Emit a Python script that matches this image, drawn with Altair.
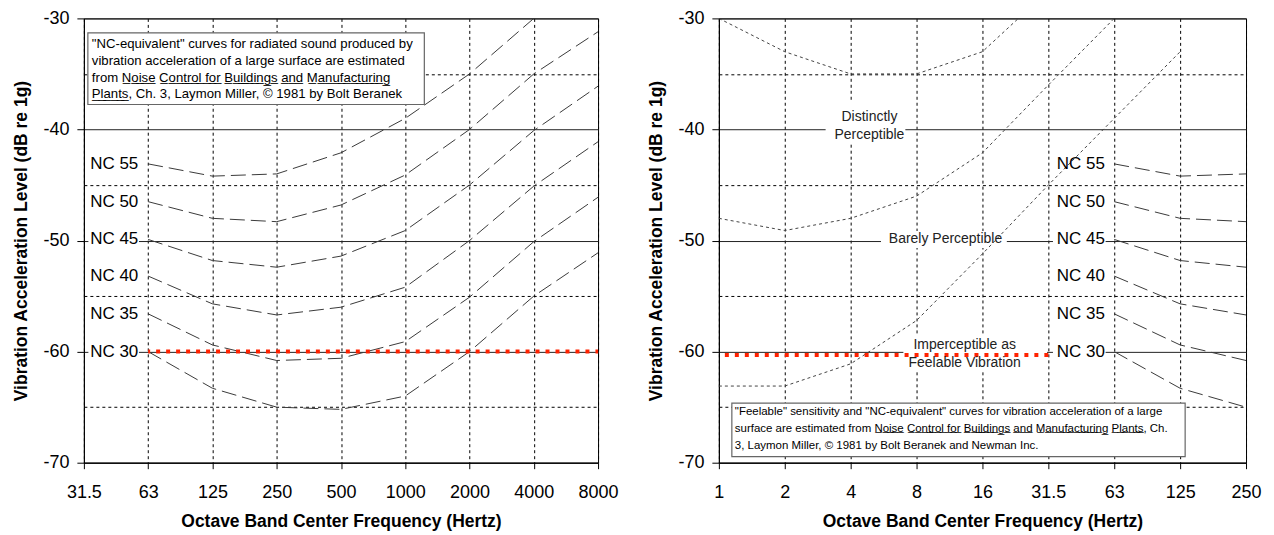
import altair as alt
import pandas as pd

FONT = "Liberation Sans"

# ---------------- data ----------------
LEFT_TICKS = ["31.5", "63", "125", "250", "500", "1000", "2000", "4000", "8000"]
RIGHT_TICKS = ["1", "2", "4", "8", "16", "31.5", "63", "125", "250"]

NC_FREQS = ["63", "125", "250", "500", "1000", "2000", "4000", "8000"]
NC_NAMES = ["NC 30", "NC 35", "NC 40", "NC 45", "NC 50", "NC 55"]
NC30 = [-60.0, -63.3, -65.0, -65.2, -64.0, -60.0, -55.0, -51.1]
NC35 = [-56.6, -59.4, -60.8, -60.6, -59.1, -55.1, -50.1, -46.1]
NC40 = [-53.2, -55.7, -56.7, -56.0, -54.2, -50.0, -45.1, -41.1]
NC45 = [-49.9, -51.8, -52.4, -51.4, -49.1, -45.0, -40.1, -36.1]
NC50 = [-46.5, -48.0, -48.3, -46.8, -44.1, -40.0, -35.0, -31.2]
NC55 = [-43.1, -44.2, -44.0, -42.1, -39.0, -35.0, -30.0]
NC_VALUES = [NC30, NC35, NC40, NC45, NC50, NC55]
RIGHT_NC_FREQS = ["63", "125", "250"]

FEEL_FREQS = ["1", "2", "4", "8", "16", "31.5", "63", "125"]
DISTINCT = [-30.0, -33.0, -35.0, -35.0, -33.0, -27.5]
BARELY = [-48.0, -49.1, -48.0, -46.0, -42.1, -36.0, -30.0]
IMPERCEPT = [-63.1, -63.1, -61.1, -57.2, -51.2, -45.0, -39.0, -33.0]
FEEL_NAMES = ["Distinctly Perceptible", "Barely Perceptible", "Imperceptible"]
FEEL_VALUES = [DISTINCT, BARELY, IMPERCEPT]

THRESH_LEFT_FREQS = ["63", "8000"]
THRESH_LEFT_DB = -60.0
THRESH_RIGHT_FREQS = ["1", "31.5"]
THRESH_RIGHT_DB = -60.3


def ul(word):
    return "".join(c + "\u0332" for c in word)


LEFT_NOTE = [
    '"NC-equivalent" curves for radiated sound produced by',
    "vibration acceleration of a large surface are estimated",
    "from " + " ".join(ul(w) for w in ["Noise", "Control", "for", "Buildings", "and", "Manufacturing"]),
    ul("Plants") + ", Ch. 3, Laymon Miller, \u00a9 1981 by Bolt Beranek",
]
RIGHT_NOTE = [
    '"Feelable" sensitivity and "NC-equivalent" curves for vibration acceleration of a large',
    "surface are estimated from "
    + " ".join(ul(w) for w in ["Noise", "Control", "for", "Buildings", "and", "Manufacturing", "Plants"])
    + ", Ch.",
    "3, Laymon Miller, \u00a9 1981 by Bolt Beranek and Newman Inc.",
]

# ---------------- encodings ----------------
Y_DOMAIN = [-70, -30]
Y_VALUES = [-70, -65, -60, -55, -50, -45, -40, -35, -30]
MAJOR = "datum.value % 10 == 0"


def x_axis(ticks):
    arr = "[" + ",".join("'" + t + "'" for t in ticks) + "]"
    return alt.Axis(
        values=list(range(len(ticks))),
        labelExpr=arr + "[datum.value]",
        title="Octave Band Center Frequency (Hertz)",
        grid=True, gridDash=[3, 3], gridColor="#000", gridWidth=1,
        domainColor="#000", tickColor="#000", tickSize=6,
        labelFont=FONT, labelFontSize=18, labelColor="#000", labelPadding=15,
        labelFlush=False, labelOverlap=False,
        titleFont=FONT, titleFontSize=17.5, titleFontWeight="bold", titleColor="#000",
        titlePadding=11,
    )


Y_AXIS = alt.Axis(
    values=Y_VALUES,
    labelExpr=MAJOR + " ? '' + datum.value : ''",
    title="Vibration Acceleration Level (dB re 1g)",
    grid=True,
    gridDash=alt.condition(MAJOR, alt.value([]), alt.value([3, 3])),
    gridColor=alt.condition(MAJOR, alt.value("#222"), alt.value("#000")),
    gridWidth=1,
    domainColor="#000", tickColor="#000", tickSize=7,
    tickOpacity=alt.condition(MAJOR, alt.value(1), alt.value(0)),
    labelFont=FONT, labelFontSize=18, labelColor="#000", labelPadding=8,
    labelOverlap=False,
    titleFont=FONT, titleFontSize=17.5, titleFontWeight="bold", titleColor="#000",
    titlePadding=12,
)


def X(field, ticks):
    return alt.X(field, type="quantitative",
                 scale=alt.Scale(domain=[0, len(ticks) - 1], nice=False, zero=False),
                 axis=x_axis(ticks))


def X2(field):
    return alt.X2(field)


def Y(field):
    return alt.Y(field, type="quantitative",
                 scale=alt.Scale(domain=Y_DOMAIN, nice=False, zero=False), axis=Y_AXIS)


def Y2(field):
    return alt.Y2(field)


# ---------------- panel builder ----------------
def panel(ticks, nc_freqs, width, height, feel, thresh_freqs, thresh_db, thresh_offset,
          nc_label_x, nc_label_left, note_lines, note_box, note_x, note_ys, note_size,
          extra_labels, extra_boxes):
    nc_rows = []
    for name, vals in zip(NC_NAMES, NC_VALUES):
        for f, v in zip(NC_FREQS, vals):
            if f in nc_freqs:
                nc_rows.append({"curve": name, "i": ticks.index(f), "db": v})
    nc_df = pd.DataFrame(nc_rows)

    lab_rows = []
    for name, vals in zip(NC_NAMES, NC_VALUES):
        lab_rows.append({"label": name, "i": nc_label_x, "i0": nc_label_left,
                         "db": vals[0], "y0": vals[0] - 0.7, "y1": vals[0] + 0.7})
    lab_df = pd.DataFrame(lab_rows)

    box_rows = [{"i0": nc_label_left, "i1": nc_label_x + 0.01, "y0": r["y0"], "y1": r["y1"]}
                for r in lab_rows] + extra_boxes
    box_df = pd.DataFrame(box_rows)

    layers = []
    layers.append(
        alt.Chart(box_df).mark_rect(color="white", opacity=1).encode(
            x=X("i0", ticks), x2=X2("i1"), y=Y("y0"), y2=Y2("y1"))
    )
    layers.append(
        alt.Chart(nc_df).mark_line(color="#3a3a3a", strokeWidth=1, strokeDash=[15, 6]).encode(
            x=X("i", ticks), y=Y("db"), detail="curve:N")
    )
    if feel:
        feel_rows = []
        for name, vals in zip(FEEL_NAMES, FEEL_VALUES):
            for f, v in zip(FEEL_FREQS, vals):
                feel_rows.append({"curve": name, "i": ticks.index(f), "db": v})
        layers.append(
            alt.Chart(pd.DataFrame(feel_rows)).mark_line(
                color="#444", strokeWidth=1, strokeDash=[3, 3], clip=True).encode(
                x=X("i", ticks), y=Y("db"), detail="curve:N")
        )
    thr_df = pd.DataFrame({"i": [ticks.index(f) for f in thresh_freqs], "db": [thresh_db] * 2})
    layers.append(
        alt.Chart(thr_df).mark_line(color="#ff2200", strokeWidth=4, strokeDash=[4, 6],
                                    strokeDashOffset=thresh_offset).encode(
            x=X("i", ticks), y=Y("db"))
    )
    layers.append(
        alt.Chart(lab_df).mark_text(align="right", baseline="middle", font=FONT,
                                    fontSize=17, color="#000").encode(
            x=X("i", ticks), y=Y("db"), text="label:N")
    )
    if extra_labels:
        layers.append(
            alt.Chart(pd.DataFrame(extra_labels)).mark_text(
                align="center", baseline="middle", font=FONT, fontSize=14, color="#222").encode(
                x=X("i", ticks), y=Y("db"), text="label:N")
        )
    layers.append(
        alt.Chart(pd.DataFrame([note_box])).mark_rect(
            fill="white", stroke="#666", strokeWidth=1.2).encode(
            x=X("i0", ticks), x2=X2("i1"), y=Y("y0"), y2=Y2("y1"))
    )
    note_df = pd.DataFrame({"label": note_lines, "i": [note_x] * len(note_lines), "db": note_ys})
    layers.append(
        alt.Chart(note_df).mark_text(align="left", baseline="middle", font=FONT,
                                     fontSize=note_size, color="#000").encode(
            x=X("i", ticks), y=Y("db"), text="label:N")
    )
    return alt.layer(*layers).properties(width=width, height=height)


left = panel(
    LEFT_TICKS, NC_FREQS, 515, 445, False, THRESH_LEFT_FREQS, THRESH_LEFT_DB, -8,
    nc_label_x=0.847, nc_label_left=0.07,
    note_lines=LEFT_NOTE,
    note_box={"i0": 0.062, "i1": 5.297, "y0": -31.3, "y1": -37.75},
    note_x=0.124, note_ys=[-32.28, -33.81, -35.33, -36.85], note_size=13.2,
    extra_labels=[], extra_boxes=[],
)

right = panel(
    RIGHT_TICKS, RIGHT_NC_FREQS, 528, 445, True, THRESH_RIGHT_FREQS, THRESH_RIGHT_DB, -6,
    nc_label_x=5.859, nc_label_left=5.07,
    note_lines=RIGHT_NOTE,
    note_box={"i0": 0.197, "i1": 7.076, "y0": -64.63, "y1": -69.46},
    note_x=0.242, note_ys=[-65.44, -66.96, -68.48], note_size=11.5,
    extra_labels=[
        {"label": "Distinctly", "i": 2.285, "db": -38.86},
        {"label": "Perceptible", "i": 2.285, "db": -40.5},
        {"label": "Barely Perceptible", "i": 3.44, "db": -49.9},
        {"label": "Imperceptible as", "i": 3.73, "db": -59.38},
        {"label": "Feelable Vibration", "i": 3.73, "db": -61.03},
    ],
    extra_boxes=[
        {"i0": 1.62, "i1": 2.83, "y0": -37.52, "y1": -41.28},
        {"i0": 2.46, "i1": 4.37, "y0": -49.15, "y1": -50.67},
        {"i0": 2.80, "i1": 4.98, "y0": -58.55, "y1": -61.77},
    ],
)

chart = alt.hconcat(left, right, spacing=121, bounds="flush").configure_view(
    stroke="#000", strokeWidth=1
).properties(padding={"left": 4, "top": 0, "right": 4, "bottom": 0}, background="white")

chart.save("out.html", embed_options={"renderer": "svg", "actions": False})
